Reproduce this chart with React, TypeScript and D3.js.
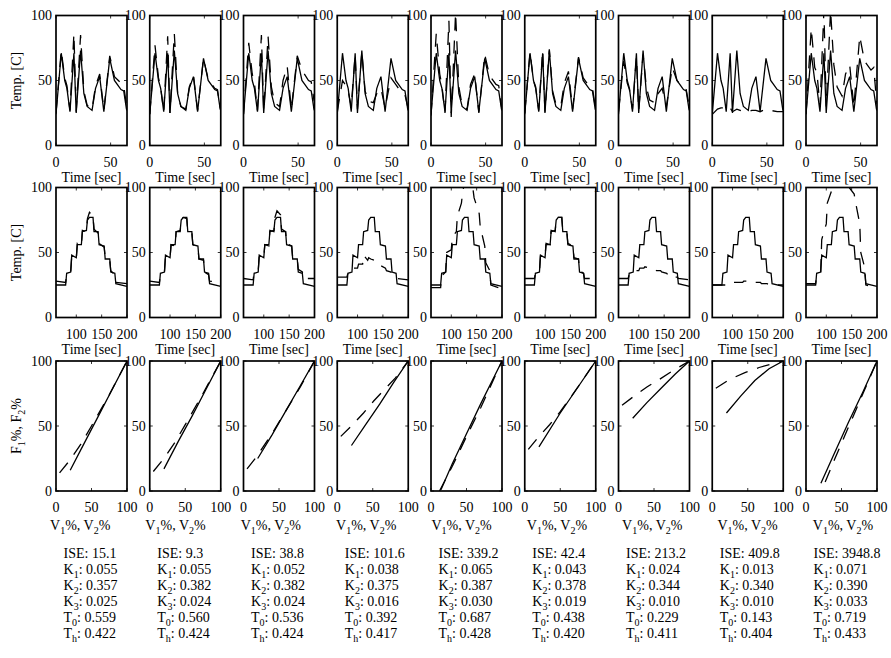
import React from "react";
import * as d3 from "d3";

const W = 891;
const H = 658;
const FONT = "Liberation Serif";

// layout
const LEFT0 = 56;
const STEP = 93.75;
const PW = 71;
const PH = 130;
const ROW_TOP = [15.5, 187.5, 361];

// ---- row 1: temperature vs time (first experiment) ----
const t1 = [0, 4.8, 8, 10, 12.8, 16.4, 18.5, 22.5, 25.5, 28.5, 33, 36.2, 40, 43.8, 49.2, 53.5, 59.5, 62, 64.5, 65];
const meas1 = [24, 71, 50, 44, 26, 71, 25, 73, 40, 30, 27, 44, 53, 26, 67, 50, 43, 42, 28, 27];
const model1 = [
  [25, 73, 52, 46, 27, 86, 26, 85, 42, 31, 28, 46, 55, 27, 69, 53, 48, 46, 31, 30],
  [24, 77, 52, 45, 26, 84, 25, 86, 41, 30, 28, 45, 54, 27, 67, 51, 44, 43, 29, 28],
  [24, 79, 55, 48, 27, 85, 26, 84, 45, 33, 30, 50, 61, 28, 69, 58, 50, 49, 35, 34],
  [26, 50, 46, 42, 30, 70, 28, 72, 42, 34, 33, 40, 44, 29, 52, 47, 40, 39, 30, 29],
  [23, 86, 55, 46, 25, 96, 22, 102, 45, 31, 28, 47, 55, 25, 70, 54, 47, 46, 30, 28],
  [25, 72, 50, 45, 27, 73, 26, 74, 42, 32, 30, 48, 57, 28, 68, 52, 45, 44, 30, 29],
  [26, 65, 48, 43, 28, 68, 27, 70, 45, 35, 33, 40, 44, 30, 60, 50, 44, 43, 31, 30],
  [24, 28, 29, 29, 27, 29, 26, 28, 27, 26, 26, 27, 27, 26, 28, 27, 26, 26, 26, 26],
  [24, 90, 60, 56, 30, 104, 30, 104, 62, 45, 38, 55, 62, 30, 84, 65, 58, 60, 35, 32],
];

// ---- row 2: temperature vs time (staircase experiment) ----
const t2 = [60, 79, 81, 89, 91, 100, 102, 110, 112, 120, 122, 126, 133, 135, 143, 145, 155, 157, 166, 168, 176, 178, 200];
const meas2 = [25, 25, 34, 35, 48, 46, 56, 56, 66, 67, 75, 77, 77, 66, 66, 56, 55, 45, 45, 35, 34, 26, 24];
const model2 = [
  [28, 27, 33, 35, 47, 45, 57, 55, 67, 66, 76, 81, 78, 68, 65, 57, 54, 46, 44, 36, 33, 27, 26],
  [28, 27, 33, 35, 47, 46, 56, 55, 66, 66, 75, 77, 76, 66, 65, 56, 54, 45, 44, 35, 33, 28, 27],
  [30, 29, 35, 36, 47, 46, 56, 55, 67, 66, 77, 82, 79, 68, 66, 57, 55, 46, 45, 37, 35, 30, 30],
  [31, 31, 34, 35, 38, 38, 41, 41, 48, 44, 46, 45, 44, 43, 42, 40, 38, 36, 35, 33, 32, 30, 29],
  [23, 23, 32, 35, 50, 52, 62, 66, 78, 88, 95, 104, 106, 104, 98, 92, 80, 70, 55, 42, 36, 25, 22],
  [30, 30, 34, 35, 48, 47, 57, 56, 67, 66, 76, 77, 77, 67, 66, 57, 55, 46, 45, 36, 34, 30, 30],
  [30, 30, 33, 34, 36, 36, 38, 38, 39, 38, 38, 37, 37, 36, 36, 35, 34, 33, 33, 31, 31, 30, 29],
  [25, 25, 25, 25, 26, 26, 27, 27, 27, 27, 28, 28, 28, 27, 27, 27, 27, 26, 26, 26, 25, 25, 25],
  [26, 26, 32, 35, 60, 72, 88, 97, 104, 106, 108, 108, 108, 106, 104, 100, 95, 90, 72, 50, 38, 25, 23],
];

// ---- row 3: F% vs V% ----
const solidV = [
  [20, 40, 60, 80, 100],
  [20, 40, 60, 80, 100],
  [20, 40, 60, 80, 100],
  [20, 40, 60, 80, 100],
  [14, 30, 50, 70, 90, 100],
  [20, 50, 75, 100],
  [20, 40, 60, 80, 100],
  [20, 40, 60, 80, 100],
  [21, 40, 60, 80, 100],
];
const solidF = [
  [16, 37, 58, 79, 100],
  [17, 38, 58, 79, 100],
  [25, 43, 62, 81, 100],
  [35, 51, 67, 84, 100],
  [1, 21, 44, 67, 89, 100],
  [34, 60, 80, 100],
  [56, 68, 79, 90, 100],
  [60, 73, 85, 94, 100],
  [6, 29, 53, 76, 100],
];
const dashV = [
  [5, 20, 35, 50, 75, 100],
  [5, 20, 35, 50, 75, 100],
  [5, 18, 40, 60, 80, 100],
  [5, 20, 37, 51, 68, 82, 100],
  [12, 30, 50, 70, 90, 100],
  [5, 20, 35, 50, 75, 100],
  [5, 22, 40, 58, 78, 100],
  [5, 25, 46, 66, 85, 100],
  [27, 40, 55, 70, 85, 100],
];
const dashF = [
  [14, 24, 36, 50, 74, 100],
  [15, 25, 37, 51, 75, 100],
  [17, 26, 44, 62, 80, 100],
  [42, 50, 60, 69, 79, 87, 100],
  [0, 19, 42, 64, 88, 100],
  [32, 42, 51, 61, 80, 100],
  [66, 73, 80, 86, 93, 100],
  [79, 86, 91, 95, 98, 100],
  [7, 24, 43, 62, 81, 100],
];

// ---- fitted parameters ----
const ise = [15.1, 9.3, 38.8, 101.6, 339.2, 42.4, 213.2, 409.8, 3948.8];
const k1 = [0.055, 0.055, 0.052, 0.038, 0.065, 0.043, 0.024, 0.013, 0.071];
const k2 = [0.357, 0.382, 0.382, 0.375, 0.387, 0.378, 0.344, 0.34, 0.39];
const k3 = [0.025, 0.024, 0.024, 0.016, 0.03, 0.019, 0.01, 0.01, 0.033];
const t0 = [0.559, 0.56, 0.536, 0.392, 0.687, 0.438, 0.229, 0.143, 0.719];
const th = [0.422, 0.424, 0.424, 0.417, 0.428, 0.42, 0.411, 0.404, 0.433];

const yTicks = [0, 50, 100];
const xDomains: [number, number][] = [[0, 65], [60, 200], [0, 100]];
const xTicks = [[0, 50], [100, 150, 200], [0, 50, 100]];

const LINE_W = 1.3;
const DASH = "13,10";
const txt = { fontFamily: FONT, fontSize: 14 };

function Panel({ row, i }: { row: number; i: number }) {
  const left = LEFT0 + i * STEP;
  const top = ROW_TOP[row];
  const x = d3.scaleLinear().domain(xDomains[row]).range([left, left + PW]);
  const y = d3.scaleLinear().domain([0, 100]).range([top + PH, top]);
  const line = d3.line<[number, number]>().x((d) => x(d[0])).y((d) => y(d[1]));
  const clipId = `clip-${row}-${i}`;

  let solid: [number, number][] = [];
  let dashed: [number, number][] = [];
  if (row === 0) {
    solid = t1.map((t, k) => [t, meas1[k]]);
    dashed = t1.map((t, k) => [t, model1[i][k]]);
  } else if (row === 1) {
    solid = t2.map((t, k) => [t, meas2[k]]);
    dashed = t2.map((t, k) => [t, model2[i][k]]);
  } else {
    solid = solidV[i].map((v, k) => [v, solidF[i][k]]);
    dashed = dashV[i].map((v, k) => [v, dashF[i][k]]);
  }
  const bottom = top + PH;

  return (
    <g>
      <defs>
        <clipPath id={clipId}>
          <rect x={left} y={top} width={PW} height={PH} />
        </clipPath>
      </defs>
      <g clipPath={`url(#${clipId})`} fill="none" stroke="#000" strokeWidth={LINE_W}>
        <path d={line(solid) || ""} />
        <path d={line(dashed) || ""} strokeDasharray={DASH} />
      </g>
      {/* ticks, inward on all four sides */}
      {xTicks[row].map((v) => (
        <g key={"xt" + v} stroke="#000" strokeWidth={0.8}>
          <line x1={x(v)} x2={x(v)} y1={bottom} y2={bottom - 3} />
          <line x1={x(v)} x2={x(v)} y1={top} y2={top + 3} />
        </g>
      ))}
      {yTicks.map((v) => (
        <g key={"yt" + v} stroke="#000" strokeWidth={0.8}>
          <line x1={left} x2={left + 3} y1={y(v)} y2={y(v)} />
          <line x1={left + PW} x2={left + PW - 3} y1={y(v)} y2={y(v)} />
        </g>
      ))}
      <rect x={left} y={top} width={PW} height={PH} fill="none" stroke="#000" strokeWidth={1.7} />
      {yTicks.map((v) => (
        <text key={"yl" + v} x={left - 4} y={y(v)} dy="0.35em" textAnchor="end" style={txt}>
          {v}
        </text>
      ))}
      {xTicks[row].map((v) => (
        <text key={"xl" + v} x={x(v)} y={bottom + 21} textAnchor="middle" style={txt}>
          {v}
        </text>
      ))}
      {row < 2 ? (
        <text x={left + PW / 2} y={bottom + 36.5} textAnchor="middle" style={txt}>
          Time [sec]
        </text>
      ) : (
        <text x={left - 6 + i * 1.6} y={bottom + 39} style={txt}>
          <tspan>V</tspan>
          <tspan dy={4} fontSize={10}>1</tspan>
          <tspan dy={-4}>%, V</tspan>
          <tspan dy={4} fontSize={10}>2</tspan>
          <tspan dy={-4}>%</tspan>
        </text>
      )}
    </g>
  );
}

function SubLine({ x, y, base, sub, value }: { x: number; y: number; base: string; sub: string; value: string }) {
  return (
    <text x={x} y={y} style={txt}>
      <tspan>{base}</tspan>
      <tspan dy={4} fontSize={10}>{sub}</tspan>
      <tspan dy={-4}>{": " + value}</tspan>
    </text>
  );
}

export default function App() {
  const idx = d3.range(9);
  const statsTop = 558;
  const gap = 16;
  return (
    <svg
      width={W}
      height={H}
      style={{ position: "absolute", left: 0, top: 0, background: "#fff", fontFamily: FONT }}
      fill="#000"
    >
      {[0, 1, 2].map((row) => idx.map((i) => <Panel key={row + "-" + i} row={row} i={i} />))}

      <text transform={`translate(21,${ROW_TOP[0] + PH / 2}) rotate(-90)`} textAnchor="middle" style={txt}>
        Temp. [C]
      </text>
      <text transform={`translate(21,${ROW_TOP[1] + PH / 2}) rotate(-90)`} textAnchor="middle" style={txt}>
        Temp. [C]
      </text>
      <text transform={`translate(21,${ROW_TOP[2] + PH / 2}) rotate(-90)`} textAnchor="middle" style={txt}>
        <tspan>F</tspan>
        <tspan dy={4} fontSize={10}>1</tspan>
        <tspan dy={-4}>%, F</tspan>
        <tspan dy={4} fontSize={10}>2</tspan>
        <tspan dy={-4}>%</tspan>
      </text>

      {idx.map((i) => {
        const x = LEFT0 + i * STEP + 7.5;
        return (
          <g key={"s" + i}>
            <text x={x} y={statsTop} style={txt}>{"ISE: " + ise[i].toFixed(1)}</text>
            <SubLine x={x} y={statsTop + gap} base="K" sub="1" value={k1[i].toFixed(3)} />
            <SubLine x={x} y={statsTop + gap * 2} base="K" sub="2" value={k2[i].toFixed(3)} />
            <SubLine x={x} y={statsTop + gap * 3} base="K" sub="3" value={k3[i].toFixed(3)} />
            <SubLine x={x} y={statsTop + gap * 4} base="T" sub="0" value={t0[i].toFixed(3)} />
            <SubLine x={x} y={statsTop + gap * 5} base="T" sub="h" value={th[i].toFixed(3)} />
          </g>
        );
      })}
    </svg>
  );
}
